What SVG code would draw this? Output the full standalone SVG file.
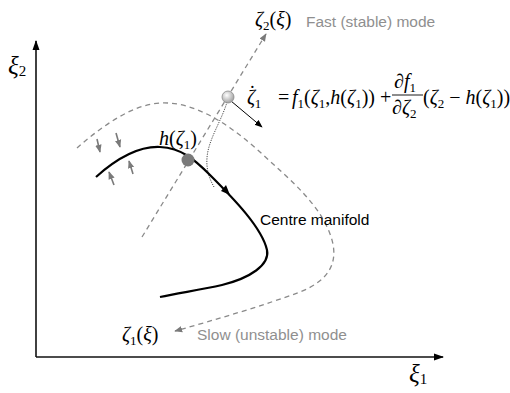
<svg xmlns="http://www.w3.org/2000/svg" width="510" height="393" viewBox="0 0 510 393">
<defs>
<style>
.ax{stroke:#111;stroke-width:1.6;fill:none}
.dash{stroke:#8a8a8a;stroke-width:1.3;fill:none;stroke-dasharray:5,4}
.man{stroke:#000;stroke-width:2.2;fill:none}
.small{stroke:#7a7a7a;stroke-width:1.6;fill:none}
.m{font-family:"Liberation Serif",serif;font-size:20px;fill:#000}
.i{font-style:italic}
.sb{font-size:13px}
.lab{font-family:"Liberation Sans",Arial,sans-serif;font-size:15.5px}
.grey{fill:#8f8f8f}
</style>
<marker id="ab" viewBox="0 0 10 10" refX="9" refY="5" markerWidth="8" markerHeight="8" markerUnits="userSpaceOnUse" orient="auto"><path d="M0,1 L10,5 L0,9 Z" fill="#000"/></marker>
<marker id="axm" viewBox="0 0 10 10" refX="9" refY="5" markerWidth="10" markerHeight="10" markerUnits="userSpaceOnUse" orient="auto"><path d="M0,1.5 L10,5 L0,8.5 Z" fill="#000"/></marker>
<marker id="ag" viewBox="0 0 10 10" refX="9" refY="5" markerWidth="8" markerHeight="8" markerUnits="userSpaceOnUse" orient="auto"><path d="M0,1 L10,5 L0,9 Z" fill="#7a7a7a"/></marker>
<radialGradient id="lg" cx="0.4" cy="0.35" r="0.7"><stop offset="0" stop-color="#ffffff"/><stop offset="1" stop-color="#9a9a9a"/></radialGradient>
</defs>
<rect width="510" height="393" fill="#fff"/>

<g id="axes">
<path class="ax" d="M36,357 L36,41" marker-end="url(#axm)"/>
<path class="ax" d="M36,357 L443,357" marker-end="url(#axm)"/>
<text class="m i" x="8" y="74" style="font-size:25px">ξ<tspan class="sb" dy="2" style="font-style:normal;font-size:15px">2</tspan></text>
<text class="m i" x="409" y="382" style="font-size:25px">ξ<tspan class="sb" dy="2" style="font-style:normal;font-size:15px">1</tspan></text>
</g>

<g id="connectors">
<path id="fast-mode" class="dash" d="M142,237 L266,34" marker-end="url(#ag)"/>
<path id="slow-mode" class="dash" d="M77,148 C100,128 130,105 160,103 C195,101 230,125 260,152 C290,180 322,205 332,240 C338,262 330,280 300,292 C265,305 215,320 175,331" marker-end="url(#ag)"/>
<path id="dotted" d="M227,102 C222,120 208,140 207,158 C206,170 210,180 214,187" fill="none" stroke="#333" stroke-width="0.9" stroke-dasharray="1.2,1.2"/>
<path id="eq-arrow" d="M231,101 L262,127" stroke="#000" stroke-width="1" fill="none" marker-end="url(#ab)"/>
<path class="small" d="M97,139 L100,152" marker-end="url(#ag)"/>
<path class="small" d="M116,133 L120,147" marker-end="url(#ag)"/>
<path class="small" d="M114,185 L109,172" marker-end="url(#ag)"/>
<path class="small" d="M133,174 L129,161" marker-end="url(#ag)"/>
</g>

<g id="centre-manifold">
<path class="man" d="M96,177 C115,160 138,146 160,147 C182,148 195,160 210,175 C235,200 262,228 267,250 C270,265 250,278 222,285 C200,290 178,293 160,297"/>
<path d="M230,195 L221,191 L226,185 Z" fill="#000"/>
<text class="lab" x="260" y="225" fill="#000">Centre manifold</text>
</g>

<g id="h-point">
<circle cx="188" cy="160" r="6.5" fill="#7a7a7a"/>
<text class="m" x="159" y="145"><tspan class="i">h</tspan>(<tspan class="i">ζ</tspan><tspan class="sb" dy="4">1</tspan><tspan dy="-4">)</tspan></text>
</g>

<g id="state-point">
<circle cx="228" cy="97" r="6" fill="url(#lg)" stroke="#8a8a8a" stroke-width="0.8"/>
</g>

<g id="fast-label">
<text class="m" x="255" y="26"><tspan class="i">ζ</tspan><tspan class="sb" dy="4">2</tspan><tspan dy="-4">(</tspan><tspan class="i">ξ</tspan>)</text>
<text class="lab grey" x="306" y="27">Fast (stable) mode</text>
</g>

<g id="slow-label">
<text class="m" x="122" y="341"><tspan class="i">ζ</tspan><tspan class="sb" dy="4">1</tspan><tspan dy="-4">(</tspan><tspan class="i">ξ</tspan>)</text>
<text class="lab grey" x="197" y="340">Slow (unstable) mode</text>
</g>

<g id="equation">
<text class="m" x="247" y="104"><tspan class="i">ζ</tspan><tspan dx="-6" dy="-4">˙</tspan><tspan class="sb" dx="-1" dy="8">1</tspan><tspan x="278" dy="-4">=</tspan><tspan class="i" x="292">f</tspan><tspan class="sb" dy="4">1</tspan><tspan dy="-4">(</tspan><tspan class="i">ζ</tspan><tspan class="sb" dy="4">1</tspan><tspan dy="-4">,</tspan><tspan class="i">h</tspan>(<tspan class="i">ζ</tspan><tspan class="sb" dy="4">1</tspan><tspan dy="-4">))</tspan><tspan x="380">+</tspan></text>
<text class="m" x="394" y="88">∂<tspan class="i">f</tspan><tspan class="sb" dy="4">1</tspan></text>
<line x1="392" y1="95" x2="423" y2="95" stroke="#000" stroke-width="0.9"/>
<text class="m" x="392" y="114">∂<tspan class="i">ζ</tspan><tspan class="sb" dy="4">2</tspan></text>
<text class="m" x="423" y="104">(<tspan class="i">ζ</tspan><tspan class="sb" dy="4">2</tspan><tspan dy="-4"> − </tspan><tspan class="i">h</tspan>(<tspan class="i">ζ</tspan><tspan class="sb" dy="4">1</tspan><tspan dy="-4">))</tspan></text>
</g>
</svg>
